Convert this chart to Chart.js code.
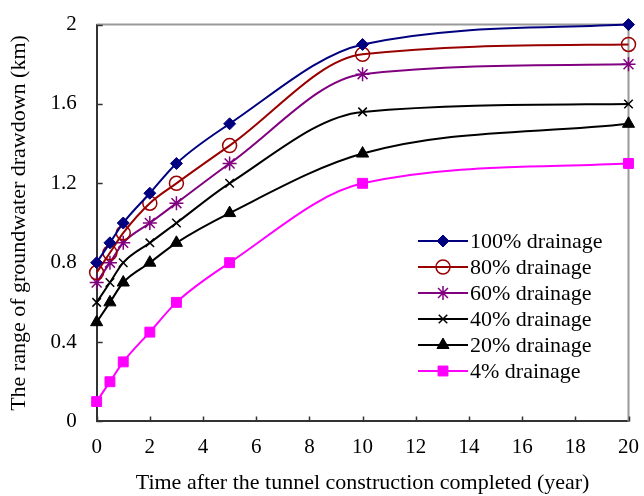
<!DOCTYPE html>
<html>
<head>
<meta charset="utf-8">
<script src="https://cdn.jsdelivr.net/npm/chart.js@4/dist/chart.umd.min.js"></script>
<style>
	html, body { margin: 0; padding: 0; background: #fff; }
	#wrap { width: 644px; height: 496px; }
</style>
</head>
<body>
<div id="wrap"><canvas id="chart" width="644" height="496"></canvas></div>
<script>
const years = [0, 0.5, 1, 2, 3, 5, 10, 20];
const drain100 = [0.8, 0.9, 1.0, 1.15, 1.3, 1.5, 1.9, 2.0];
const drain80 = [0.75, 0.85, 0.95, 1.1, 1.2, 1.39, 1.85, 1.9];
const drain60 = [0.7, 0.8, 0.9, 1.0, 1.1, 1.3, 1.75, 1.8];
const drain40 = [0.6, 0.7, 0.8, 0.9, 1.0, 1.2, 1.56, 1.6];
const drain20 = [0.5, 0.6, 0.7, 0.8, 0.9, 1.05, 1.35, 1.5];
const drain4 = [0.1, 0.2, 0.3, 0.45, 0.6, 0.8, 1.2, 1.3];
const seriesNames = ['100% drainage', '80% drainage', '60% drainage', '40% drainage', '20% drainage', '4% drainage'];

const FONT = "'Liberation Serif', 'Times New Roman', serif";

function toPoints(values) {
	return values.map((v, i) => ({ x: years[i], y: v }));
}

function makeSet(label, values, color, style, radius, fill) {
	return {
		label,
		data: toPoints(values),
		borderColor: color,
		backgroundColor: fill ? color : '#fff',
		pointBackgroundColor: fill ? color : 'rgba(0,0,0,0)',
		pointBorderColor: color,
		pointStyle: style,
		pointRadius: radius,
		pointBorderWidth: fill ? 1 : 1.5,
		borderWidth: 2,
		cubicInterpolationMode: 'monotone',
		clip: false,
	};
}

// legend drawn inside the plot, like the original
const innerLegend = {
	id: 'innerLegend',
	afterDraw(chart) {
		const { ctx } = chart;
		const x0 = 418;
		const y0 = 241;
		const step = 26;
		chart.data.datasets.forEach((ds, i) => {
			const y = y0 + i * step;
			ctx.save();
			ctx.strokeStyle = ds.borderColor;
			ctx.lineWidth = 2;
			ctx.beginPath();
			ctx.moveTo(x0, y);
			ctx.lineTo(x0 + 50, y);
			ctx.stroke();
			ctx.fillStyle = ds.pointBackgroundColor;
			ctx.strokeStyle = ds.pointBorderColor;
			ctx.lineWidth = ds.pointBorderWidth;
			Chart.helpers.drawPoint(ctx, {
				pointStyle: ds.pointStyle,
				radius: ds.pointRadius,
				rotation: 0,
				borderWidth: ds.pointBorderWidth,
			}, x0 + 25, y);
			ctx.fillStyle = '#000';
			ctx.font = '22px ' + FONT;
			ctx.textBaseline = 'middle';
			ctx.fillText(seriesNames[i], x0 + 52, y + 1);
			ctx.restore();
		});
	},
};

// inward tick marks and the grey top/right frame
const frame = {
	id: 'frame',
	beforeDatasetsDraw(chart) {
		const { ctx, chartArea: a, scales } = chart;
		ctx.save();
		ctx.strokeStyle = '#999';
		ctx.lineWidth = 2;
		ctx.beginPath();
		ctx.moveTo(a.left, a.top);
		ctx.lineTo(a.right, a.top);
		ctx.lineTo(a.right, a.bottom);
		ctx.stroke();
		ctx.strokeStyle = '#333';
		ctx.lineWidth = 1.5;
		ctx.beginPath();
		scales.x.ticks.forEach(t => {
			const px = Math.round(scales.x.getPixelForValue(t.value)) + 0.5;
			ctx.moveTo(px, a.bottom);
			ctx.lineTo(px, a.bottom - 5);
		});
		scales.y.ticks.forEach(t => {
			const py = Math.round(scales.y.getPixelForValue(t.value)) + 0.5;
			ctx.moveTo(a.left, py);
			ctx.lineTo(a.left + 6, py);
		});
		ctx.stroke();
		ctx.restore();
	},
};

const config = {
	type: 'line',
	data: {
		datasets: [
			makeSet(seriesNames[0], drain100, '#000080', 'rectRot', 6, true),
			makeSet(seriesNames[1], drain80, '#990000', 'circle', 7, false),
			makeSet(seriesNames[2], drain60, '#800080', 'star', 7, false),
			makeSet(seriesNames[3], drain40, '#000000', 'crossRot', 6, false),
			makeSet(seriesNames[4], drain20, '#000000', 'triangle', 7, true),
			makeSet(seriesNames[5], drain4, '#FF00FF', 'rect', 7, true),
		],
	},
	options: {
		responsive: false,
		animation: false,
		layout: { padding: { top: -5, right: 14, left: 6, bottom: 0 } },
		plugins: {
			legend: { display: false },
			tooltip: { enabled: false },
		},
		scales: {
			x: {
				type: 'linear',
				min: 0,
				max: 20,
				ticks: { stepSize: 2, color: '#000', padding: 5, font: { family: FONT, size: 21 } },
				grid: { display: false },
				border: { color: '#333', width: 2 },
				title: {
					display: true,
					text: 'Time after the tunnel construction completed (year)',
					color: '#000',
					font: { family: FONT, size: 22 },
					padding: { top: 5, bottom: 0 },
				},
			},
			y: {
				min: 0,
				max: 2,
				ticks: {
					stepSize: 0.4,
					color: '#000',
					padding: 12,
					font: { family: FONT, size: 21 },
					callback: v => Number(v.toFixed(1)).toString(),
				},
				grid: { display: false },
				border: { color: '#333', width: 2 },
				title: {
					display: true,
					text: 'The range of groundwater drawdown (km)',
					color: '#000',
					font: { family: FONT, size: 22 },
					padding: { top: 0, bottom: 6 },
				},
			},
		},
	},
	plugins: [frame, innerLegend],
};

new Chart(document.getElementById('chart'), config);
</script>
</body>
</html>
